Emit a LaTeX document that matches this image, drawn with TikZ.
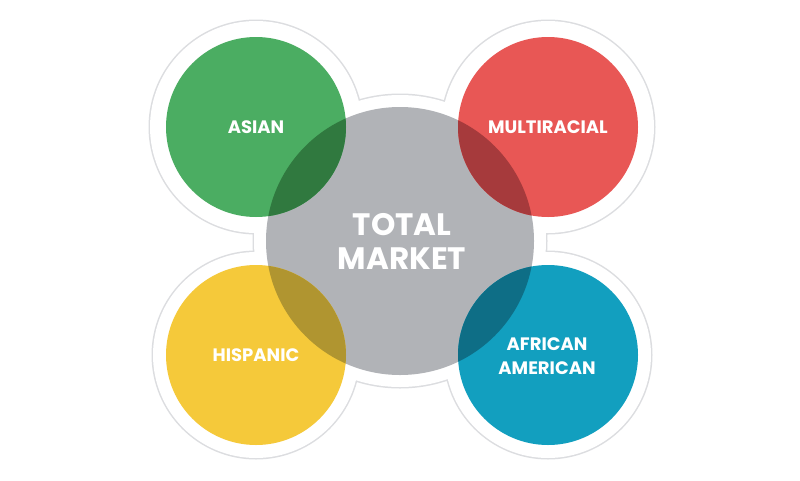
\documentclass[tikz,border=0pt]{standalone}
\usepackage{fontspec}
\newfontfamily\pop{Poppins}
\definecolor{cgreen}{HTML}{4BAD62}
\definecolor{cred}{HTML}{E85755}
\definecolor{cyellow}{HTML}{F5C93A}
\definecolor{cblue}{HTML}{129FBF}
\definecolor{cgray}{HTML}{B1B3B7}
\definecolor{dgreen}{HTML}{30793F}
\definecolor{dred}{HTML}{A63A3C}
\definecolor{dyellow}{HTML}{B09530}
\definecolor{dblue}{HTML}{0E6E86}
\definecolor{ring}{HTML}{DCDDE0}
\tikzset{
  lab/.style={text=white, font=\pop\bfseries\fontsize{18}{24}\selectfont, align=center, inner sep=0pt},
  biglab/.style={text=white, font=\pop\bfseries\fontsize{31}{34}\selectfont, align=center, inner sep=0pt},
  ringline/.style={draw=ring, line width=3pt},
}
\begin{document}
\begin{tikzpicture}[x=1pt,y=-1pt]
\useasboundingbox (0,0) rectangle (800,480);
\fill[white] (0,0) rectangle (800,480);
% outer white shape with light outline
\path[ringline] (400,241) circle (146pt) (256,127) circle (106pt) (548,127) circle (106pt)
  (256,355) circle (103pt) (548,355) circle (103pt);
\fill[white] (400,241) circle (146pt) (256,127) circle (106pt) (548,127) circle (106pt)
  (256,355) circle (103pt) (548,355) circle (103pt);
% circles
\fill[cgray] (400,241) circle (134pt);
\fill[cgreen] (256,127) circle (90pt);
\fill[cred] (548,127) circle (90pt);
\fill[cyellow] (256,355) circle (90pt);
\fill[cblue] (548,355) circle (90pt);
% overlaps
\begin{scope}
  \clip (400,241) circle (134pt);
  \fill[dgreen] (256,127) circle (90pt);
  \fill[dred] (548,127) circle (90pt);
  \fill[dyellow] (256,355) circle (90pt);
  \fill[dblue] (548,355) circle (90pt);
\end{scope}
% labels
\node[lab] (asian) at (256,127) {ASIAN};
\node[lab] (multi) at (548,127) {MULTIRACIAL};
\node[lab] (hisp) at (256,355) {HISPANIC};
\node[lab] (afam) at (547,356) {AFRICAN\\AMERICAN};
\node[biglab] (total) at (402,241) {TOTAL\\MARKET};
\end{tikzpicture}
\end{document}
